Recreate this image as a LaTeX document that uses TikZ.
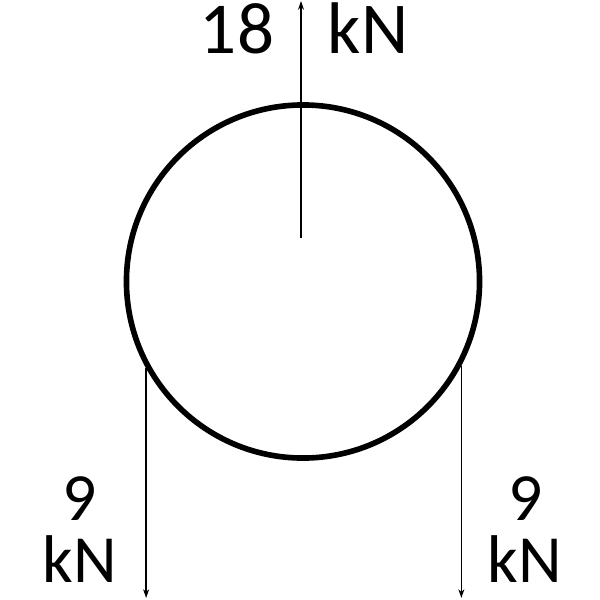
\documentclass[tikz,border=0pt]{standalone}
\usepackage{fontspec}
\setmainfont{Carlito}
\usetikzlibrary{arrows.meta, positioning}

\begin{document}
\begin{tikzpicture}[x=0.025cm, y=-0.025cm,
    force/.style={-{Stealth[length=2.2mm,width=1.5mm]}, line width=0.9pt},
    biglbl/.style={anchor=base, inner sep=0pt, font=\fontsize{52}{52}\selectfont},
    lbl/.style={anchor=base, inner sep=0pt, font=\fontsize{48}{48}\selectfont}]
\useasboundingbox (0,0) rectangle (600,600);
% the ball
\node[circle, draw, line width=4pt, minimum size=8.825cm, inner sep=0pt] (ball) at (303,281.5) {};
% load on top
\coordinate (tail) at (301,238);
\coordinate (tip) at (301,1);
\draw[force] (tail) -- (tip);
\node[biglbl] (topval) at (237,53) {18};
\node[biglbl] (topunit) at (368,53) {kN};
% supports
\coordinate (lfoot) at (147,598);
\coordinate (rfoot) at (461.5,598);
\draw[force] (ball.209) -- (ball.209 |- lfoot);
\draw[force] (ball.332) -- (ball.332 |- rfoot);
\node[lbl] (lval) at (80,520) {9};
\node[lbl] (lunit) at (80,582) {kN};
\node[lbl] (rval) at (526,520) {9};
\node[lbl] (runit) at (525,582) {kN};
\end{tikzpicture}
\end{document}
